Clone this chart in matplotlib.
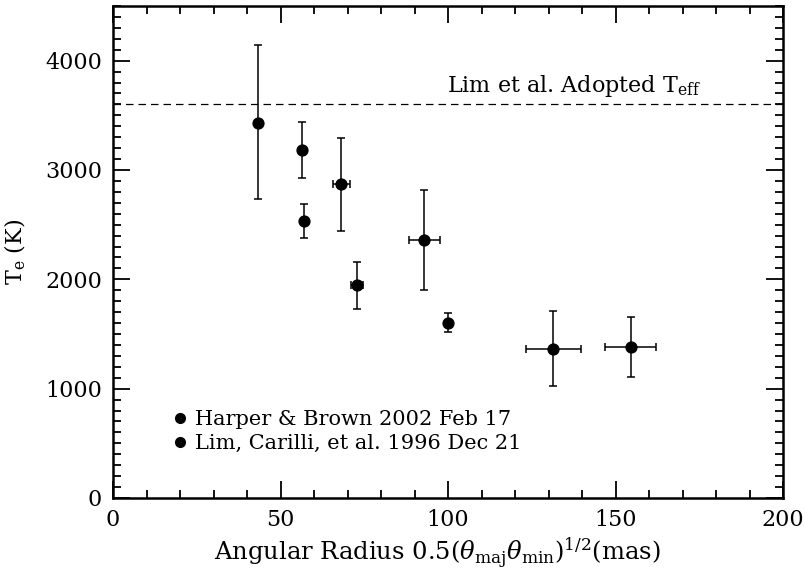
import matplotlib
matplotlib.use("Agg")
import matplotlib.pyplot as plt
from matplotlib.lines import Line2D
from matplotlib.ticker import MultipleLocator

plt.rcParams["font.family"] = "DejaVu Serif"
plt.rcParams["mathtext.fontset"] = "dejavuserif"

# ---- data ----
# Harper & Brown 2002 Feb 17
HB_R     = [56.5, 57.0, 68.1, 72.8, 92.9, 100.0, 131.4, 154.6]
HB_RERR  = [0.0, 0.0, 2.5, 1.9, 4.6, 0.0, 8.2, 7.6]
HB_T     = [3181, 2532, 2869, 1945, 2362, 1603, 1367, 1379]
HB_TLO   = [2924, 2376, 2440, 1725, 1906, 1517, 1028, 1104]
HB_THI   = [3440, 2691, 3296, 2156, 2817, 1688, 1706, 1654]
# Lim, Carilli, et al. 1996 Dec 21
LIM_R    = [43.2]
LIM_RERR = [0.0]
LIM_T    = [3434]
LIM_TLO  = [2731]
LIM_THI  = [4147]

TEFF_LIM = 3600   # Lim et al. adopted Teff
LABELS = ["Harper & Brown 2002 Feb 17", "Lim, Carilli, et al. 1996 Dec 21"]

fig = plt.figure(figsize=(8.05, 5.69), dpi=100)
ax = fig.add_axes([0.1404, 0.1248, 0.8323, 0.8647])


def draw(r, rerr, t, lo, hi):
    yerr = [[v - l for v, l in zip(t, lo)], [h - v for v, h in zip(t, hi)]]
    ax.errorbar(r, t, xerr=rerr, yerr=yerr, fmt="o", color="black", ms=7.8,
                elinewidth=1.1, capsize=3, capthick=1.1)


draw(HB_R, HB_RERR, HB_T, HB_TLO, HB_THI)
draw(LIM_R, LIM_RERR, LIM_T, LIM_TLO, LIM_THI)

ax.axhline(TEFF_LIM, color="black", ls=(0, (6, 4)), lw=0.9)
ax.text(99.7, TEFF_LIM + 45, r"Lim et al. Adopted T$_{\rm eff}$", fontsize=16,
        ha="left", va="bottom")

ax.set_xlim(0, 200)
ax.set_ylim(0, 4500)
ax.xaxis.set_major_locator(MultipleLocator(50))
ax.xaxis.set_minor_locator(MultipleLocator(10))
ax.yaxis.set_major_locator(MultipleLocator(1000))
ax.yaxis.set_minor_locator(MultipleLocator(100))
ax.tick_params(which="both", direction="in", top=True, right=True,
               labelsize=16, width=1.3)
ax.tick_params(which="major", length=12, pad=8)
ax.tick_params(which="minor", length=6)
for s in ax.spines.values():
    s.set_linewidth(1.8)

ax.set_xlabel(r"Angular Radius 0.5($\theta_{\rm maj}\theta_{\rm min}$)$^{1/2}$(mas)",
              fontsize=17.5, labelpad=2)
ax.xaxis.set_label_coords(0.484, -0.075)
ax.set_ylabel(r"T$_{\rm e}$ (K)", fontsize=16, labelpad=12)

handles = [Line2D([], [], marker="o", ls="none", color="black", ms=7)
           for _ in LABELS]
ax.legend(handles, LABELS, loc="upper left", bbox_to_anchor=(0.085, 0.179),
          frameon=False, fontsize=15, handletextpad=0.2, borderaxespad=0,
          borderpad=0, labelspacing=0.25, handlelength=1.0)

fig.savefig("out.png", dpi=100)
